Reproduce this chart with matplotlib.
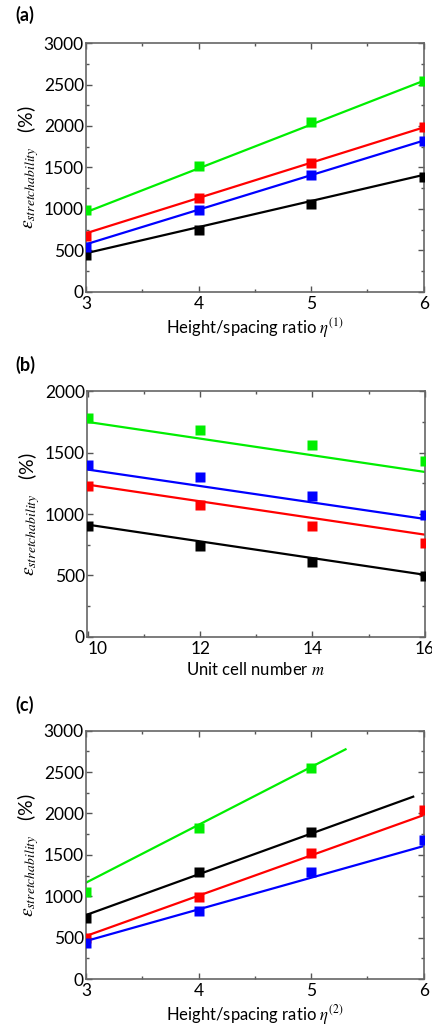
import numpy as np
import matplotlib
matplotlib.use("Agg")
import matplotlib.pyplot as plt
from matplotlib.ticker import MultipleLocator

plt.rcParams['font.family'] = ['Lato', 'DejaVu Sans']
plt.rcParams['mathtext.fontset'] = 'stix'

black = "#000000"
blue = "#0000ff"
red = "#ff0000"
green = "#00ee00"

'''---Data---'''

# (a) stretchability vs height/spacing ratio eta(1)
eta1 = [3, 4, 5, 6]
a_black = [443, 745, 1059, 1389]
a_blue = [544, 987, 1410, 1824]
a_red = [673, 1136, 1559, 1986]
a_green = [987, 1522, 2047, 2546]
# model lines: x range and end values
a_line_x = [3, 6]
a_line_black = [464, 1410]
a_line_blue = [572, 1824]
a_line_red = [705, 1983]
a_line_green = [959, 2546]

# (b) stretchability vs unit cell number m
m = [10, 12, 14, 16]
b_black = [899, 742, 606, 492]
b_blue = [1402, 1299, 1150, 989]
b_red = [1225, 1071, 905, 764]
b_green = [1783, 1688, 1565, 1430]
b_line_x = [10, 16]
b_line_black = [913, 505]
b_line_blue = [1362, 960]
b_line_red = [1239, 832]
b_line_green = [1750, 1343]

# (c) stretchability vs height/spacing ratio eta(2)
eta2 = [3, 4, 5, 6]
c_black = [741, 1289, 1780]
c_blue = [431, 822, 1289, 1679]
c_red = [499, 987, 1526, 2042]
c_green = [1055, 1828, 2553]
c_line_black_x = [3, 5.906]
c_line_black = [773, 2203]
c_line_green_x = [3, 5.305]
c_line_green = [1164, 2775]
c_line_x = [3, 6]
c_line_blue = [459, 1607]
c_line_red = [520, 1981]

'''---Plot---'''

fig = plt.figure(figsize=(4.32, 10.27), dpi=100)
ax1 = fig.add_axes([0.199, 0.716, 0.782, 0.242])
ax2 = fig.add_axes([0.201, 0.380, 0.782, 0.239])
ax3 = fig.add_axes([0.199, 0.0467, 0.782, 0.2418])

ms = 6.5
lw = 1.6

def series(ax, x, y, lx, ly, c):
    ax.plot(lx, ly, '-', color=c, lw=lw, zorder=2)
    ax.plot(x[:len(y)], y, 's', color=c, ms=ms, mec='none', zorder=3)

def style(ax, xmaj, xmin, ymax):
    ax.set_ylim(0, ymax)
    ax.xaxis.set_major_locator(MultipleLocator(xmaj))
    ax.xaxis.set_minor_locator(MultipleLocator(xmin))
    ax.yaxis.set_major_locator(MultipleLocator(500))
    ax.yaxis.set_minor_locator(MultipleLocator(250))
    ax.tick_params(which='both', direction='in', top=True, right=True,
                   color='#555555', labelsize=12.5)
    ax.tick_params(axis='y', pad=1.5)
    ax.tick_params(axis='x', pad=3)
    ax.tick_params(which='major', length=4, width=1)
    ax.tick_params(which='minor', length=2.5, width=1)
    for s in ax.spines.values():
        s.set_color('#666666')
        s.set_linewidth(1.2)
    ax.set_ylabel(r"$\varepsilon_{stretchability}$   (%)", fontsize=14, labelpad=2)

# (a)
series(ax1, eta1, a_black, a_line_x, a_line_black, black)
series(ax1, eta1, a_blue, a_line_x, a_line_blue, blue)
series(ax1, eta1, a_red, a_line_x, a_line_red, red)
series(ax1, eta1, a_green, a_line_x, a_line_green, green)
ax1.set_xlim(3, 6)
style(ax1, 1, 0.5, 3000)
ax1.set_xlabel(r"Height/spacing ratio $\eta^{(1)}$", fontsize=12, labelpad=3)

# (b)
series(ax2, m, b_black, b_line_x, b_line_black, black)
series(ax2, m, b_blue, b_line_x, b_line_blue, blue)
series(ax2, m, b_red, b_line_x, b_line_red, red)
series(ax2, m, b_green, b_line_x, b_line_green, green)
ax2.set_xlim(9.98, 16)
style(ax2, 2, 1, 2000)
ax2.set_xticks(m)
ax2.set_xlabel(r"Unit cell number $m$", fontsize=12, labelpad=3)
# first x tick label sits to the right of its tick, clear of the "0"
fig.canvas.draw()
for t in ax2.xaxis.get_major_ticks():
    if t.label1.get_text() == "10":
        t.label1.set_horizontalalignment('left')

# (c)
series(ax3, eta2, c_green, c_line_green_x, c_line_green, green)
series(ax3, eta2, c_black, c_line_black_x, c_line_black, black)
series(ax3, eta2, c_red, c_line_x, c_line_red, red)
series(ax3, eta2, c_blue, c_line_x, c_line_blue, blue)
ax3.set_xlim(3, 6)
style(ax3, 1, 0.5, 3000)
ax3.set_xlabel(r"Height/spacing ratio $\eta^{(2)}$", fontsize=12, labelpad=3)

# panel letters
fig.text(0.035, 0.985, "(a)", fontsize=13, fontweight='bold', va='center')
fig.text(0.035, 0.645, "(b)", fontsize=13, fontweight='bold', va='center')
fig.text(0.035, 0.314, "(c)", fontsize=13, fontweight='bold', va='center')

plt.savefig("out.png", dpi=100)
